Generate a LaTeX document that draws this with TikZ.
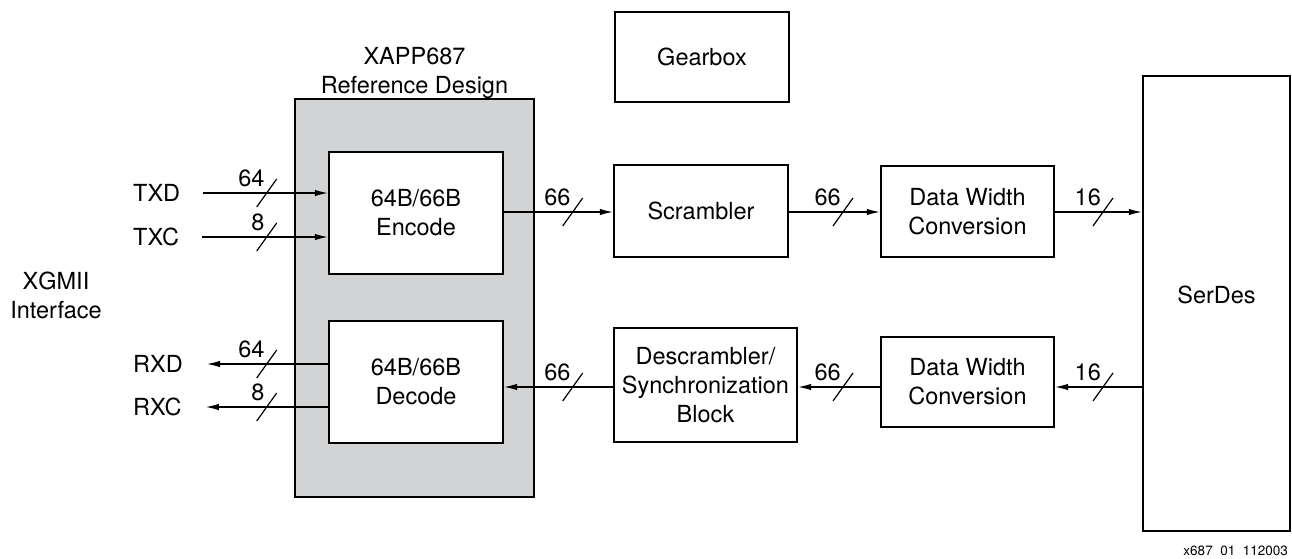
\documentclass[tikz,border=0pt]{standalone}
\usepackage{fontspec}
\setmainfont{TeX Gyre Heros}
\usetikzlibrary{arrows.meta}
\definecolor{refgrey}{RGB}{209,211,212}
\newcommand\bigfont{\fontsize{23.5}{29}\selectfont}
\newcommand\busmark[4]{%
  \draw[slash] ([shift={(-10,14)}]#2,#3) -- ([shift={(10,-14)}]#2,#3);
  \node[buslbl] (#1) at ([shift={(-2,-6.5)}]#2,#3) {#4};}
\tikzset{
  box/.style={draw=black, line width=2.4pt, fill=white, inner sep=0pt, align=center, font=\bigfont},
  txt/.style={inner sep=0pt, font=\bigfont},
  arr/.style={line width=1.2pt, -{Latex[length=13pt,width=6.5pt]}},
  slash/.style={line width=1.2pt},
  buslbl/.style={anchor=base east, inner sep=0pt, font=\bigfont}
}
\begin{document}
\begin{tikzpicture}[x=1pt,y=-1pt]
\useasboundingbox (0,0) rectangle (1292,558);
% reference design frame
\node[box, fill=refgrey, minimum width=239pt, minimum height=398pt] (ref) at (414.5,298) {};
\node[txt, anchor=base] (xapp) at (414.5,64) {XAPP687};
\node[txt, anchor=base] (refdes) at (414.5,93.5) {Reference Design};
% blocks
\node[box, minimum width=174pt, minimum height=122pt] (enc) at (416,213) {64B/66B\\Encode};
\node[box, minimum width=174pt, minimum height=122pt] (dec) at (416,382) {64B/66B\\Decode};
\node[box, minimum width=174pt, minimum height=90pt] (gear) at (702,57) {Gearbox};
\node[box, minimum width=174pt, minimum height=92pt] (scr) at (701,211) {Scrambler};
\node[box, minimum width=183pt, minimum height=114pt] (dsc) at (705.5,385) {Descrambler/\\Synchronization\\Block};
\node[box, minimum width=173pt, minimum height=91pt] (dwa) at (967.5,211.5) {Data Width\\Conversion};
\node[box, minimum width=173pt, minimum height=90pt] (dwb) at (967.5,382) {Data Width\\Conversion};
\node[box, minimum width=147pt, minimum height=455pt, text depth=17pt] (ser) at (1216.5,303.5) {SerDes};
% interface labels
\node[txt, align=center] (xgmii) at (56,295) {XGMII\\Interface};
\node[txt, anchor=west] (txd) at (133,193) {TXD};
\node[txt, anchor=west] (txc) at (133,237) {TXC};
\node[txt, anchor=west] (rxd) at (133,364) {RXD};
\node[txt, anchor=west] (rxc) at (133,407) {RXC};
\node[anchor=base east, inner sep=0pt, font=\fontsize{13.5}{16}\selectfont] (fig) at (1288,555.5) {x687\phantom{\_}01\phantom{\_}112003};
% connectors
\coordinate (up) at (0,212);
\coordinate (lo) at (0,387);
\draw[arr] ([xshift=23pt]txd.east) -- (enc.west |- txd.east);
\draw[arr] ([xshift=23pt]txc.east) -- (enc.west |- txc.east);
\draw[arr] (enc.east |- up) -- (scr.west |- up);
\draw[arr] (scr.east |- up) -- (dwa.west |- up);
\draw[arr] (dwa.east |- up) -- (ser.west |- up);
\draw[arr] (ser.west |- lo) -- (dwb.east |- lo);
\draw[arr] (dwb.west |- lo) -- (dsc.east |- lo);
\draw[arr] (dsc.west |- lo) -- (dec.east |- lo);
\draw[arr] (dec.west |- rxd.east) -- ([xshift=24pt]rxd.east);
\draw[arr] (dec.west |- rxc.east) -- ([xshift=24pt]rxc.east);
% bus width marks
\busmark{b1}{266.7}{193}{64}
\busmark{b2}{266.7}{237}{8}
\busmark{b3}{572.7}{212}{66}
\busmark{b4}{843}{212}{66}
\busmark{b5}{1103}{212}{16}
\busmark{b6}{1103}{387}{16}
\busmark{b7}{843}{387}{66}
\busmark{b8}{572.7}{387}{66}
\busmark{b9}{266.7}{364}{64}
\busmark{b10}{266.7}{407}{8}
\end{tikzpicture}
\end{document}
